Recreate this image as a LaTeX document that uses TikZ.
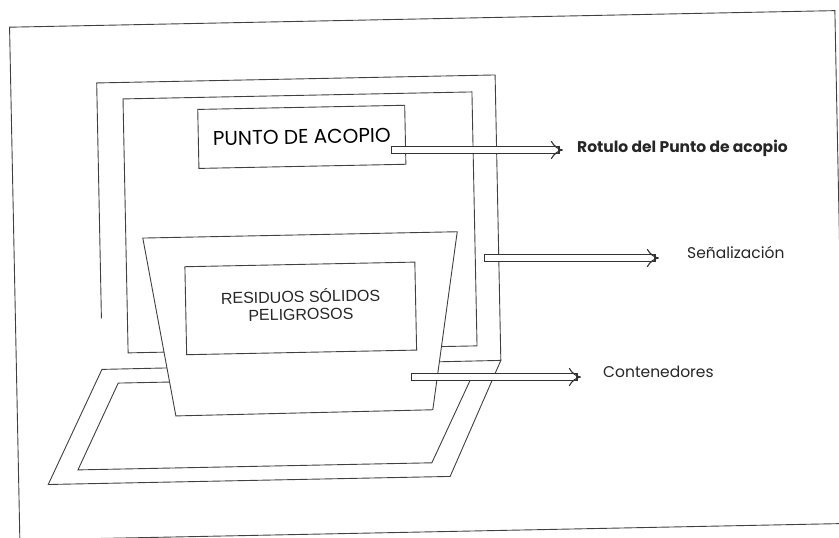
\documentclass[tikz,border=0pt]{standalone}
\usepackage{fontspec}
\newfontfamily\gothfont{Poppins}
\newfontfamily\arialfont{Liberation Sans}
\usetikzlibrary{arrows.meta}
\tikzset{
  trazo/.style={draw=black!75, line width=0.9pt},
  cuadro/.style={trazo, fill=white},
  hueco/.style={draw=black!80, line width=1.1pt, double=white, double distance=5.4pt, line cap=rect, -{Implies}},
  etiqueta/.style={anchor=west, text=black!85, inner sep=0pt},
}
\begin{document}
\begin{tikzpicture}[x=1pt, y=-1pt]
  \useasboundingbox (0,0) rectangle (839,538);
  \begin{scope}[rotate around={1.15:(420,270)}, transform shape]
    % hoja
    \draw[trazo] (14.5,19) rectangle (840,532);
    % senalizacion
    \draw[trazo] (100.5,312) -- (100.5,76.5) -- (499,76.5) -- (499,362);
    \draw[trazo] (126.5,93) rectangle (475.5,347);
    \node[cuadro, minimum width=207pt, minimum height=59pt, font=\gothfont\fontsize{20}{22}\selectfont] (punto) at (304.5,134.5) {PUNTO DE ACOPIO};
    % plataforma
    \draw[cuadro] (100,363) -- (499,362) -- (446,477) -- (44,477) -- cycle;
    \draw[trazo] (116,377) -- (470,377) -- (428,463) -- (74,463) -- cycle;
    % contenedor
    \draw[cuadro] (143.5,232.5) -- (458,232.5) -- (430,410) -- (173,411) -- cycle;
    \node[trazo, minimum width=230pt, minimum height=88pt] (residuos) at (300,306) {};
    \node[align=center, font=\arialfont\fontsize{16}{17.5}\selectfont, text=black!85] (residuostxt) at (300,302) {RESIDUOS S\'OLIDOS\\PELIGROSOS};
  \end{scope}
  % flechas
  \coordinate (a1) at (395,150);
  \coordinate (a2) at (488,258);
  \coordinate (a3) at (415,377);
  \node[etiqueta, font=\gothfont\bfseries\fontsize{15.5}{17}\selectfont] (rotulo) at (577,148) {Rotulo del Punto de acopio};
  \node[etiqueta, font=\gothfont\fontsize{15.5}{17}\selectfont] (senal) at (687,252) {Señalización};
  \node[etiqueta, font=\gothfont\fontsize{15.5}{17}\selectfont] (conten) at (603,372) {Contenedores};
  \draw[hueco, shorten >=14pt] (a1) -- (a1 -| rotulo.west);
  \draw[hueco, shorten >=28pt] (a2) -- (a2 -| senal.west);
  \draw[hueco, shorten >=22pt] (a3) -- (a3 -| conten.west);
\end{tikzpicture}
\end{document}
